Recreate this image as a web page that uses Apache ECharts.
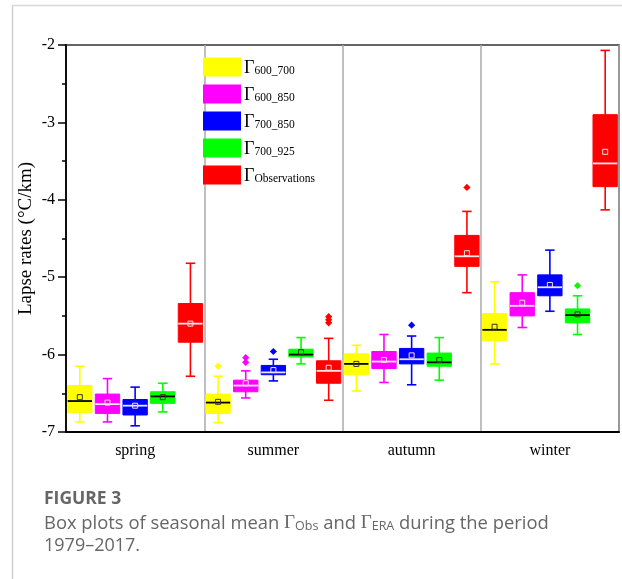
<!DOCTYPE html>
<html>
    <head>
        <meta http-equiv="Content-Type" content="text/html; charset=utf-8" />
        <title>boxplot-lapse-rates</title>
        <script type="text/javascript" src="https://cdn.jsdelivr.net/npm/echarts@6/dist/echarts.min.js"></script>
        <style>
            html, body { margin: 0; padding: 0; background: #fff; }
        </style>
    </head>

    <body>
    	<div style="width:622px;height:579px;" id="box"></div>
        <script type="text/javascript">
			// categories
			var seasons = ['spring', 'summer', 'autumn', 'winter'];
			var names = ['Γ600_700', 'Γ600_850', 'Γ700_850', 'Γ700_925', 'ΓObservations'];

			// [min, Q1, median, Q3, max, mean] per season
			var g600_700 = [
				[-6.87, -6.75, -6.60, -6.40, -6.15, -6.55],
				[-6.88, -6.76, -6.62, -6.51, -6.28, -6.61],
				[-6.47, -6.26, -6.12, -5.99, -5.88, -6.12],
				[-6.12, -5.82, -5.68, -5.47, -5.06, -5.64]
			];
			var g600_850 = [
				[-6.87, -6.76, -6.64, -6.51, -6.31, -6.62],
				[-6.56, -6.48, -6.40, -6.33, -6.21, -6.37],
				[-6.36, -6.18, -6.09, -5.96, -5.74, -6.07],
				[-5.65, -5.50, -5.37, -5.20, -4.97, -5.33]
			];
			var g700_850 = [
				[-6.92, -6.78, -6.66, -6.58, -6.42, -6.66],
				[-6.34, -6.26, -6.23, -6.14, -6.06, -6.20],
				[-6.39, -6.12, -6.06, -5.92, -5.76, -6.01],
				[-5.44, -5.24, -5.13, -4.97, -4.65, -5.10]
			];
			var g700_925 = [
				[-6.74, -6.63, -6.54, -6.48, -6.37, -6.55],
				[-6.12, -6.03, -6.00, -5.93, -5.78, -5.97],
				[-6.33, -6.15, -6.10, -5.98, -5.78, -6.07],
				[-5.74, -5.59, -5.49, -5.41, -5.24, -5.48]
			];
			var gObs = [
				[-6.28, -5.84, -5.60, -5.34, -4.82, -5.60],
				[-6.59, -6.37, -6.21, -6.08, -5.79, -6.17],
				[-5.20, -4.86, -4.73, -4.46, -4.15, -4.69],
				[-4.13, -3.83, -3.53, -2.90, -2.07, -3.38]
			];

			// outliers: [season index, value]
			var out600_700 = [[1, -6.15]];
			var out600_850 = [[1, -6.04], [1, -6.10]];
			var out700_850 = [[1, -5.96], [2, -5.62]];
			var out700_925 = [[3, -5.11]];
			var outObs = [[1, -5.51], [1, -5.55], [1, -5.59], [2, -3.84]];

			var yTicks = [-7, -6, -5, -4, -3, -2];

			var boxes = [g600_700, g600_850, g700_850, g700_925, gObs];
			var outliers = [out600_700, out600_850, out700_850, out700_925, outObs];
			var colors = ['#ffff00', '#ff00ff', '#0000ff', '#00ff00', '#ff0000'];
			var medianColors = ['#000000', '#ffe6ff', '#e6e6ff', '#000000', '#ffe6e6'];

			var serif = 'Liberation Serif';
			var sans = 'Open Sans';

			// x of the k-th box inside a season band
			function slotX(api, season, k) {
				var band = api.size([1, 0])[0];
				return api.coord([season, 0])[0] + (k - 2) * band / 5;
			}

			function boxRenderer(k) {
				return function (params, api) {
					var s = api.value(0);
					var band = api.size([1, 0])[0];
					var cx = slotX(api, s, k);
					var half = band / 5 * 0.44;
					var cap = band / 5 * 0.17;
					var y = function (i) { return api.coord([s, api.value(i)])[1]; };
					var yMin = y(1), yQ1 = y(2), yMed = y(3), yQ3 = y(4), yMax = y(5), yMean = y(6);
					var line = { stroke: colors[k], lineWidth: 1.6 };
					return {
						type: 'group',
						children: [
							{ type: 'line', shape: { x1: cx, y1: yMax, x2: cx, y2: yMin }, style: line },
							{ type: 'line', shape: { x1: cx - cap, y1: yMax, x2: cx + cap, y2: yMax }, style: line },
							{ type: 'line', shape: { x1: cx - cap, y1: yMin, x2: cx + cap, y2: yMin }, style: line },
							{ type: 'rect', shape: { x: cx - half, y: yQ3, width: half * 2, height: yQ1 - yQ3 },
								style: { fill: colors[k], stroke: colors[k], lineWidth: 1 } },
							{ type: 'line', shape: { x1: cx - half, y1: yMed, x2: cx + half, y2: yMed },
								style: { stroke: medianColors[k], lineWidth: 1.8 } },
							{ type: 'rect', shape: { x: cx - 2.5, y: yMean - 2.5, width: 5, height: 5 },
								style: { fill: 'none', stroke: k === 0 || k === 3 ? '#333' : '#ffdddd', lineWidth: 1 } }
						]
					};
				};
			}

			function outlierRenderer(k) {
				return function (params, api) {
					var s = api.value(0);
					var cx = slotX(api, s, k);
					var cy = api.coord([s, api.value(1)])[1];
					var r = 3.6;
					return {
						type: 'polygon',
						shape: { points: [[cx, cy - r], [cx + r, cy], [cx, cy + r], [cx - r, cy]] },
						style: { fill: colors[k] }
					};
				};
			}

			var series = [];
			names.forEach(function (name, k) {
				series.push({
					name: name,
					type: 'custom',
					itemStyle: { color: colors[k] },
					renderItem: boxRenderer(k),
					encode: { x: 0, y: [1, 2, 3, 4, 5] },
					data: boxes[k].map(function (row, i) { return [i].concat(row); })
				});
			});
			names.forEach(function (name, k) {
				series.push({
					name: name,
					type: 'custom',
					itemStyle: { color: colors[k] },
					renderItem: outlierRenderer(k),
					encode: { x: 0, y: 1 },
					data: outliers[k]
				});
			});

			var myChart = echarts.init(document.getElementById('box'));
			var option = {
				animation: false,
				backgroundColor: '#fff',
				grid: {
					left: 66, right: 3, top: 45, bottom: 147,
					show: true, borderColor: '#333', borderWidth: 1.5
				},
				legend: {
					orient: 'vertical',
					left: 203, top: 57,
					padding: 0,
					itemWidth: 38, itemHeight: 19, itemGap: 7,
					icon: 'rect',
					data: names,
					formatter: function (name) {
						return '{g|Γ}{s|' + name.slice(1) + '}';
					},
					textStyle: {
						padding: [0, 0, 0, -2],
						rich: {
							g: { fontFamily: serif, fontSize: 18, color: '#000', lineHeight: 20, verticalAlign: 'bottom' },
							s: { fontFamily: serif, fontSize: 11.5, color: '#000', lineHeight: 20, verticalAlign: 'bottom', padding: [8, 0, 0, 0] }
						}
					}
				},
				xAxis: {
					type: 'category',
					data: seasons,
					axisLine: { lineStyle: { color: '#000', width: 1.8 } },
					axisTick: { alignWithLabel: true, length: 8, lineStyle: { color: '#000', width: 1.5 } },
					axisLabel: { fontFamily: serif, fontSize: 16, color: '#000', margin: 11 },
					splitLine: { show: true, lineStyle: { color: '#aaa', width: 1.5 } }
				},
				yAxis: {
					type: 'value',
					min: yTicks[0], max: yTicks[yTicks.length - 1], interval: 1,
					name: 'Lapse rates (°C/km)',
					nameLocation: 'middle',
					nameGap: 30,
					nameMoveOverlap: false,
					nameTextStyle: { fontFamily: serif, fontSize: 19, color: '#000' },
					axisLine: { show: true, lineStyle: { color: '#000', width: 1.8 } },
					axisTick: { show: true, length: 8, lineStyle: { color: '#000', width: 1.5 } },
					minorTick: { show: true, splitNumber: 2, length: 4, lineStyle: { color: '#000', width: 1.5 } },
					axisLabel: { fontFamily: serif, fontSize: 16, color: '#000', margin: 11 },
					splitLine: { show: false }
				},
				series: series,
				graphic: [
					// card border
					{ type: 'line', shape: { x1: 12.5, y1: 5, x2: 12.5, y2: 579 }, style: { stroke: '#d0d0d0', lineWidth: 1.5 } },
					{ type: 'line', shape: { x1: 12, y1: 5.5, x2: 622, y2: 5.5 }, style: { stroke: '#d8d8d8', lineWidth: 1.5 } },
					// caption
					{ type: 'text', x: 44, y: 499,
						style: { text: 'FIGURE 3', fontFamily: sans, fontWeight: 'bold', fontSize: 17.5, fill: '#666', verticalAlign: 'middle' } },
					{ type: 'text', x: 44, y: 522,
						style: {
							text: '{t|Box plots of seasonal mean }{g|Γ}{s|Obs}{t| and }{g|Γ}{s|ERA}{t| during the period}',
							verticalAlign: 'middle',
							rich: {
								t: { fontFamily: sans, fontSize: 18.4, fill: '#666', lineHeight: 22, verticalAlign: 'bottom' },
								g: { fontFamily: serif, fontSize: 19, fill: '#666', lineHeight: 22, verticalAlign: 'bottom' },
								s: { fontFamily: sans, fontSize: 12.5, fill: '#666', lineHeight: 22, verticalAlign: 'bottom', padding: [6, 0, 0, 0] }
							}
						} },
					{ type: 'text', x: 44, y: 546,
						style: { text: '1979–2017.', fontFamily: sans, fontSize: 18, fill: '#666', verticalAlign: 'middle' } }
				]
			};
			myChart.setOption(option);
		</script>
    </body>
</html>
